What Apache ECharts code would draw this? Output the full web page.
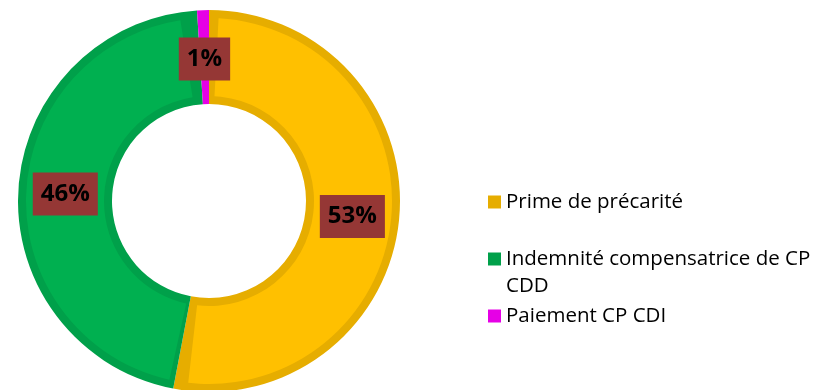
<!DOCTYPE html>
<html>
<head>
<meta charset="utf-8">
<script src="https://cdn.jsdelivr.net/npm/echarts@6/dist/echarts.min.js"></script>
<style>
  html, body { margin: 0; padding: 0; background: #ffffff; }
  #chart { width: 819px; height: 390px; }
</style>
</head>
<body>
<div id="chart"></div>
<script>
// Répartition des montants versés
const categories = ['Prime de précarité', 'Indemnité compensatrice de CP CDD', 'Paiement CP CDI'];
const values = [53, 46, 1];
const fillColors = ['#FFC000', '#00B050', '#FF00FF'];
const edgeColors = ['#E6AD00', '#00A04A', '#E600E6'];

const FONT = 'Open Sans';
const CENTER = [209, 201];
const chart = echarts.init(document.getElementById('chart'), null, { renderer: 'canvas' });

const makeData = colors => categories.map((name, i) => ({
  name, value: values[i], itemStyle: { color: colors[i] }
}));

// one legend block per entry so each can sit at its own height
const legendTops = [188.5, 218.5, 302.5];
const legendText = {
  'Indemnité compensatrice de CP CDD': ' \nIndemnité compensatrice de CP\nCDD'
};
const legends = categories.map((name, i) => ({
  data: [name],
  left: 488,
  top: legendTops[i],
  padding: 0,
  orient: 'vertical',
  icon: 'rect',
  itemWidth: 13,
  itemHeight: 13,
  itemGap: 0,
  selectedMode: false,
  textStyle: { fontFamily: FONT, fontSize: 20.5, color: '#000', lineHeight: 27 },
  formatter: n => legendText[n] || n
}));

chart.setOption({
  animation: false,
  legend: legends,
  series: [
    {
      // darker outer band: the slice outline
      type: 'pie',
      name: 'contour',
      center: CENTER,
      radius: [97, 191],
      startAngle: 90,
      clockwise: true,
      silent: true,
      label: { show: false },
      labelLine: { show: false },
      data: makeData(edgeColors)
    },
    {
      // lighter fill, inset from the outline
      type: 'pie',
      name: 'remplissage',
      center: CENTER,
      radius: [105, 183],
      startAngle: 90,
      clockwise: true,
      padAngle: 6,
      minAngle: 0,
      silent: true,
      z: 3,
      label: { show: false },
      labelLine: { show: false },
      data: makeData(fillColors)
    },
    {
      // percentage labels
      type: 'pie',
      name: 'étiquettes',
      center: [209, 203],
      radius: [97, 185],
      startAngle: 90,
      clockwise: true,
      silent: true,
      z: 4,
      itemStyle: { color: 'rgba(0,0,0,0)' },
      label: {
        show: true,
        position: 'inside',
        formatter: p => p.value + '%',
        fontFamily: FONT,
        fontWeight: 'bold',
        fontSize: 24,
        lineHeight: 26,
        color: '#000',
        backgroundColor: '#953735',
        padding: [9, 8, 8, 8]
      },
      labelLine: { show: false },
      data: categories.map((name, i) => ({ name, value: values[i] }))
    }
  ]
});
</script>
</body>
</html>
